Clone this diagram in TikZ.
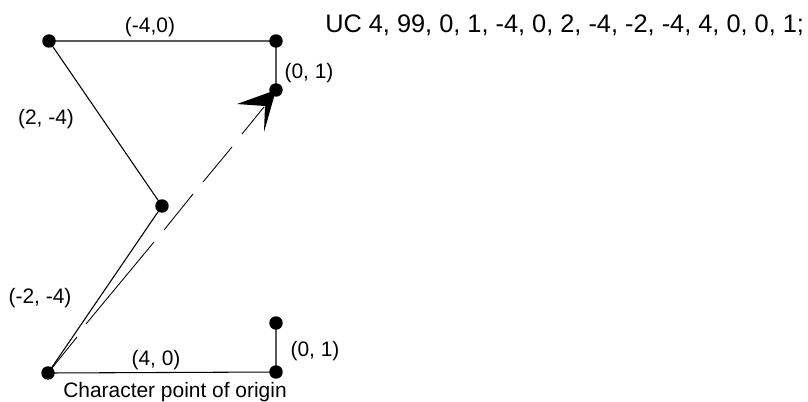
\documentclass[tikz,border=0pt]{standalone}
\usepackage{fontspec}
\setmainfont{Liberation Sans}
\tikzset{
  pt/.style={circle,fill=black,inner sep=0pt,minimum size=10.1pt},
  lbl/.style={inner sep=0pt,font=\fontsize{15.7}{18}\selectfont,anchor=base},
  seg/.style={line width=0.8pt,black}
}
\begin{document}
\begin{tikzpicture}[x=0.75pt,y=-0.75pt]
\useasboundingbox (0,0) rectangle (808,401);
\node[pt] (a) at (48,373) {};
\node[pt] (b) at (276,372) {};
\node[pt] (c) at (276,323) {};
\node[pt] (d) at (162,206) {};
\node[pt] (e) at (49,41) {};
\node[pt] (f) at (276,41) {};
\node[pt] (g) at (276,90) {};
\draw[seg] (a.center) -- (b.center) -- (c.center);
\draw[seg] (a.center) -- (d.center) -- (e.center) -- (f.center) -- (g.center);
\draw[line width=0.65pt] (a.center) -- (77,337) (86,324) -- (154,242) (164,230) -- (193,194) (203,182) -- (232,147) (242,134) -- (264,107);
\fill (g.center) -- (237,104) -- (265,106) -- (264,132) -- cycle;
\node[lbl] at (150,32) {(-4,0)};
\node[lbl] at (309,78) {(0, 1)};
\node[lbl] at (46,124) {(2, -4)};
\node[lbl] at (40,303) {(-2, -4)};
\node[lbl] at (156,365) {(4, 0)};
\node[lbl] at (315,356) {(0, 1)};
\node[lbl] at (175,397) {Character point of origin};
\node[font=\fontsize{19}{22}\selectfont,inner sep=0pt,anchor=base west] at (325,32) {UC 4, 99, 0, 1, -4, 0, 2, -4, -2, -4, 4, 0, 0, 1;};
\end{tikzpicture}
\end{document}
